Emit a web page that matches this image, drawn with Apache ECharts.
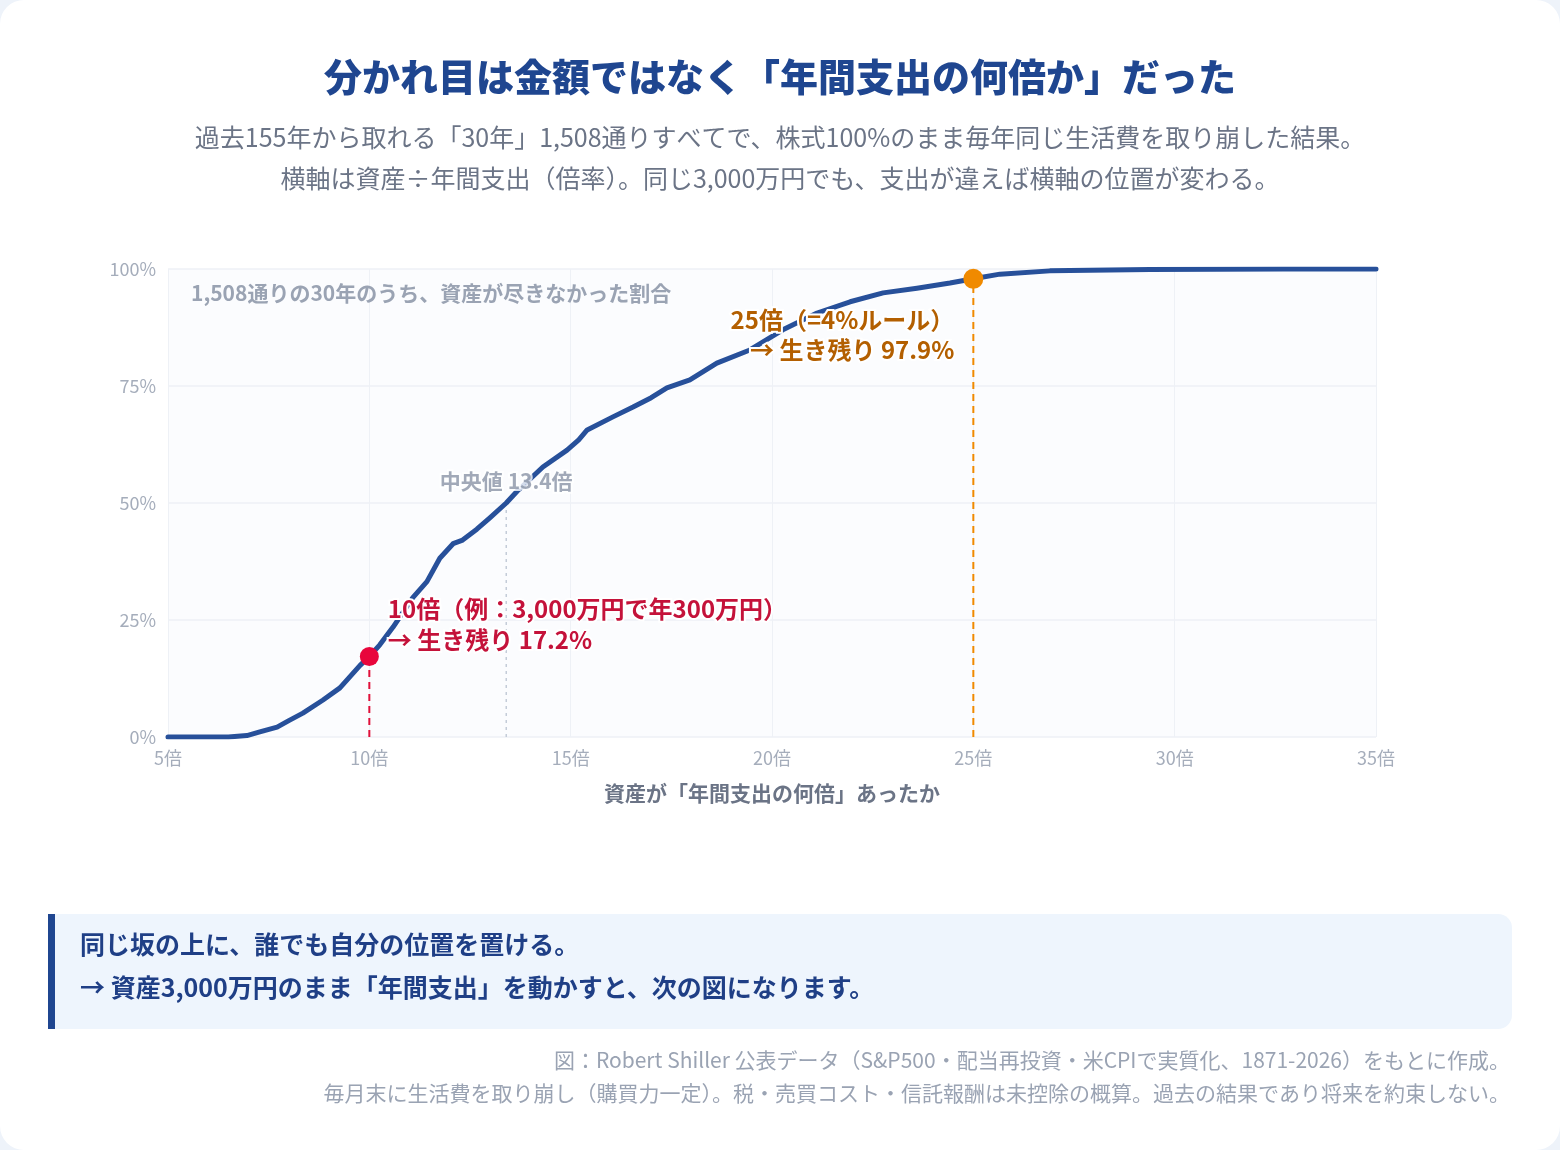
<!DOCTYPE html>
<html>
<head>
<meta charset="utf-8">
<script src="https://cdn.jsdelivr.net/npm/echarts@6/dist/echarts.min.js"></script>
<style>
html,body{margin:0;padding:0;background:#eef3fa;}
#wrap{width:1560px;height:1150px;border-radius:24px;background:#ffffff;overflow:hidden;}
#chart{width:1560px;height:1150px;}
</style>
</head>
<body>
<div id="wrap"><div id="chart"></div></div>
<script>
// ---- data ----
const xMultiples = [5,6.5,6.96,7.28,7.71,8.0,8.35,8.85,9.27,9.77,10,10.26,10.59,11.08,11.43,11.75,12.08,12.3,12.67,13.0,13.4,13.67,14.31,14.91,15.2,15.41,16.05,16.55,17.0,17.39,17.96,18.63,19.45,20.27,21.12,21.94,22.76,23.6,24.42,25,25.66,26.9,29.39,32.69,35];
const survival   = [0,0,0.3,1.1,2.1,3.5,5.1,7.9,10.5,15.3,17.2,19.7,23.5,29.8,33.2,38.2,41.3,42.0,44.4,46.9,50,52.5,57.7,61.3,63.5,65.6,68.4,70.5,72.5,74.6,76.3,79.9,82.7,87.0,90.6,93.0,94.9,95.9,97.0,97.9,98.9,99.6,99.9,100,100];
const xTicks = [5,10,15,20,25,30,35];
const yTicks = [0,25,50,75,100];
const example10 = {x:10, y:17.2};
const median = {x:13.4, y:50};
const rule25 = {x:25, y:97.9};

const titleText = '分かれ目は金額ではなく「年間支出の何倍か」だった';
const subLine1 = '過去155年から取れる「30年」1,508通りすべてで、株式100%のまま毎年同じ生活費を取り崩した結果。';
const subLine2 = '横軸は資産÷年間支出（倍率）。同じ3,000万円でも、支出が違えば横軸の位置が変わる。';
const innerNote = '1,508通りの30年のうち、資産が尽きなかった割合';
const xAxisName = '資産が「年間支出の何倍」あったか';
const boxLine1 = '同じ坂の上に、誰でも自分の位置を置ける。';
const boxLine2 = '→ 資産3,000万円のまま「年間支出」を動かすと、次の図になります。';
const foot1 = '図：Robert Shiller 公表データ（S&P500・配当再投資・米CPIで実質化、1871-2026）をもとに作成。';
const foot2 = '毎月末に生活費を取り崩し（購買力一定）。税・売買コスト・信託報酬は未控除の概算。過去の結果であり将来を約束しない。';

const FONT = '"Noto Sans CJK JP","Noto Sans",sans-serif';
const chart = echarts.init(document.getElementById('chart'));

const curve = xMultiples.map((x,i)=>[x, survival[i]]);

chart.setOption({
  backgroundColor: 'transparent',
  textStyle: {fontFamily: FONT},
  title: [
    {text: titleText, left: 'center', top: 53,
     textStyle: {fontSize: 38, fontWeight: 900, color: '#1f4690', fontFamily: FONT}},
    {text: subLine1, left: 'center', top: 120,
     textStyle: {fontSize: 25, fontWeight: 400, color: '#6b7486', fontFamily: FONT}},
    {text: subLine2, left: 'center', top: 161,
     textStyle: {fontSize: 25, fontWeight: 400, color: '#6b7486', fontFamily: FONT}},
    {text: innerNote, left: 186, top: 278,
     textStyle: {fontSize: 21, fontWeight: 700, color: '#9aa3b3', fontFamily: FONT}}
  ],
  grid: {left: 168, right: 184, top: 269, bottom: 413, show: true,
         backgroundColor: '#fbfcfe', borderWidth: 0},
  xAxis: {
    type: 'value', min: 5, max: 35, interval: 5,
    name: xAxisName, nameLocation: 'middle', nameGap: 46,
    nameTextStyle: {fontSize: 21, fontWeight: 700, color: '#6b7486', fontFamily: FONT},
    axisLine: {show: false}, axisTick: {show: false},
    axisLabel: {fontSize: 18, color: '#a5adbb', margin: 12, formatter: v => v + '倍'},
    splitLine: {show: true, lineStyle: {color: '#eef1f6', width: 1}}
  },
  yAxis: {
    type: 'value', min: 0, max: 100, interval: 25,
    axisLine: {show: false}, axisTick: {show: false},
    axisLabel: {fontSize: 18, color: '#a5adbb', margin: 12, formatter: v => v + '%'},
    splitLine: {show: true, lineStyle: {color: '#eef1f6', width: 1.5}}
  },
  series: [
    {type: 'line', data: [[median.x, 0],[median.x, median.y]], symbol: 'none', silent: true,
     lineStyle: {color: '#c4ccd8', width: 1.5, type: [3,4]}, z: 2},
    {type: 'line', data: [[example10.x, 0],[example10.x, example10.y]], symbol: 'none', silent: true,
     lineStyle: {color: '#e0103a', width: 2, type: [7,5]}, z: 2},
    {type: 'line', data: [[rule25.x, 0],[rule25.x, rule25.y]], symbol: 'none', silent: true,
     lineStyle: {color: '#f08a00', width: 2, type: [7,5]}, z: 2},
    {type: 'line', data: curve, symbol: 'none', smooth: false,
     lineStyle: {color: '#27509a', width: 5, join: 'round', cap: 'round'}, z: 3},
    {type: 'scatter', data: [[median.x, median.y]], symbolSize: 0, z: 5,
     label: {show: true, position: 'top', distance: 11,
       formatter: '中央値 ' + median.x + '倍',
       fontSize: 21, fontWeight: 700, color: '#8a94a6', fontFamily: FONT,
       textBorderColor: '#ffffff', textBorderWidth: 4}},
    {type: 'scatter', data: [[example10.x, example10.y]], symbolSize: 19, z: 6,
     itemStyle: {color: '#e8063c', opacity: 1},
     label: {show: true, position: 'right', align: 'left', verticalAlign: 'bottom', offset: [4, -1],
       formatter: '10倍（例：3,000万円で年300万円）\n→ 生き残り ' + example10.y + '%',
       fontSize: 24, fontWeight: 700, color: '#c4123a', lineHeight: 31, fontFamily: FONT,
       textBorderColor: '#ffffff', textBorderWidth: 4}},
    {type: 'scatter', data: [[rule25.x, rule25.y]], symbolSize: 20, z: 6,
     itemStyle: {color: '#f08a00', opacity: 1},
     label: {show: true, position: 'left', align: 'right', verticalAlign: 'top', offset: [-4, 26],
       formatter: '25倍（=4%ルール）\n→ 生き残り ' + rule25.y + '%',
       fontSize: 24, fontWeight: 700, color: '#b35f00', lineHeight: 30, fontFamily: FONT,
       textBorderColor: '#ffffff', textBorderWidth: 4}}
  ],
  graphic: [
    {type: 'rect', left: 48, top: 914, shape: {width: 1464, height: 115, r: [0,14,14,0]},
     style: {fill: '#eef5fd'}, z: 1},
    {type: 'rect', left: 48, top: 914, shape: {width: 7, height: 115},
     style: {fill: '#1f4690'}, z: 2},
    {type: 'text', left: 80, top: 932, z: 3,
     style: {text: boxLine1, fontSize: 25, fontWeight: 700, fill: '#1f3f86', fontFamily: FONT}},
    {type: 'text', left: 80, top: 975, z: 3,
     style: {text: boxLine2, fontSize: 25, fontWeight: 700, fill: '#1f3f86', fontFamily: FONT}},
    {type: 'text', right: 50, top: 1050, z: 3,
     style: {text: foot1, fontSize: 21, fill: '#9aa3b3', fontFamily: FONT, textAlign: 'right'}},
    {type: 'text', right: 50, top: 1083, z: 3,
     style: {text: foot2, fontSize: 21, fill: '#9aa3b3', fontFamily: FONT, textAlign: 'right'}}
  ]
});
</script>
</body>
</html>
